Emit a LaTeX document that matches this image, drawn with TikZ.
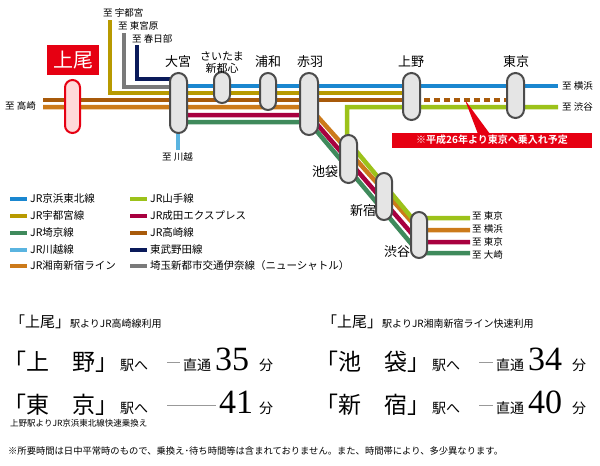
\documentclass[tikz,border=0pt]{standalone}
\usepackage{fontspec}
\setmainfont{Noto Sans CJK JP}
\newfontfamily\jpb{Noto Sans CJK JP Bold}
\newfontfamily\numf{Liberation Serif}
\definecolor{cBlue}{HTML}{1A87D0}
\definecolor{cYel}{HTML}{B89A00}
\definecolor{cBrown}{HTML}{A85A0A}
\definecolor{cOrange}{HTML}{CC7A1A}
\definecolor{cCrim}{HTML}{A8003F}
\definecolor{cGreen}{HTML}{3F8A5C}
\definecolor{cLBlue}{HTML}{5AB4E0}
\definecolor{cNavy}{HTML}{0A1A5A}
\definecolor{cGray}{HTML}{7A7A7A}
\definecolor{cLime}{HTML}{9CC21A}
\definecolor{cRed}{HTML}{E60012}
\begin{document}
\begin{tikzpicture}[x=1pt,y=-1pt,
  rail/.style={line width=4.5pt},
  pill/.style={draw=black!70,line width=2pt,fill=black!10},
  dest/.style={font=\fontsize{9.5}{9.5}\selectfont,inner sep=0pt},
  stn/.style={font=\fontsize{13}{14}\selectfont,inner sep=0pt,align=center},
  leg/.style={font=\fontsize{10.5}{10.5}\selectfont,anchor=west,inner sep=0pt},
  big/.style={font=\fontsize{23}{23}\selectfont,anchor=base west,inner sep=0pt},
  mid/.style={font=\fontsize{14}{14}\selectfont,anchor=base west,inner sep=0pt},
  num/.style={font=\numf\fontsize{34}{34}\selectfont,anchor=base west,inner sep=0pt},
  sm/.style={font=\fontsize{10}{10}\selectfont,anchor=base west,inner sep=0pt}]
\fill[white] (0,0) rectangle (600,466);
% branch lines
\draw[rail,cYel] (110,20) -- (110,93) -- (420,93);
\draw[rail,cGray] (124,33) -- (124,87) -- (180,87);
\draw[rail,cNavy] (137,45) -- (137,79) -- (180,79);
\draw[rail,cLBlue] (178,120) -- (178,150);
\draw[rail,cBlue] (180,86) -- (558,86);
\draw[rail,cBrown] (43,100) -- (420,100);
\draw[line width=3.5pt,cBrown,dash pattern=on 6pt off 4pt] (424,100) -- (507,100);
\draw[rail,cOrange] (43,107) -- (309,107) -- (419,230) -- (470,230);
\draw[rail,cCrim] (180,115) -- (309,115) -- (419,242) -- (470,242);
\draw[rail,cGreen] (180,122) -- (309,122) -- (419,253) -- (470,253);
\draw[rail,cLime] (558,107) -- (347,107) -- (347,140) -- (412,218) -- (470,218);
% pills
\draw[pill,draw=cRed,fill=red!15!white,rounded corners=7.5pt] (65,80) rectangle (80,133);
\draw[pill,rounded corners=8.5pt] (170,73) rectangle (187,133);
\draw[pill,rounded corners=8pt] (214,72) rectangle (230,103);
\draw[pill,rounded corners=8pt] (260,73) rectangle (276,110);
\draw[pill,rounded corners=9pt] (300,73) rectangle (318,135);
\draw[pill,rounded corners=8.5pt] (403,73) rectangle (420,120);
\draw[pill,rounded corners=8.5pt] (507,73) rectangle (524,118);
\draw[pill,rounded corners=8.5pt] (340,135) rectangle (357,183);
\draw[pill,rounded corners=8pt] (376,173) rectangle (392,220);
\draw[pill,rounded corners=8pt] (411,212) rectangle (427,258);
% ageo label
\node[fill=cRed,text=white,font=\fontsize{20}{20}\selectfont,minimum width=52pt,minimum height=30pt,inner sep=0pt] (ageo) at (73,60) {上尾};
% station labels
\node[stn] (omiya) at (178,62) {大宮};
\node[stn,font=\fontsize{11}{12}\selectfont] (shin) at (222,63) {さいたま\\新都心};
\node[stn] (urawa) at (268,62) {浦和};
\node[stn] (akab) at (310,62) {赤羽};
\node[stn] (ueno) at (411,62) {上野};
\node[stn] (tokyo) at (516,62) {東京};
\node[stn] (ikeb) at (325,172) {池袋};
\node[stn] (shinj) at (363,211) {新宿};
\node[stn] (shibu) at (397,252) {渋谷};
% destinations
\node[dest,anchor=west] (d1) at (103,13) {至 宇都宮};
\node[dest,anchor=west] (d2) at (118,26) {至 東宮原};
\node[dest,anchor=west] (d3) at (132,39) {至 春日部};
\node[dest,anchor=west] (d4) at (5,106) {至 高崎};
\node[dest,anchor=west] (d5) at (162,157) {至 川越};
\node[dest,anchor=west] (d6) at (562,86) {至 横浜};
\node[dest,anchor=west] (d7) at (562,107) {至 渋谷};
\node[dest,anchor=west] (d8) at (472,216) {至 東京};
\node[dest,anchor=west] (d9) at (472,229) {至 横浜};
\node[dest,anchor=west] (d10) at (472,242) {至 東京};
\node[dest,anchor=west] (d11) at (472,255) {至 大崎};
% callout
\fill[cRed] (465,100) -- (478,134) -- (490,134) -- cycle;
\node[fill=cRed,text=white,font=\jpb\fontsize{10}{10}\selectfont,minimum width=200pt,minimum height=15pt,inner sep=0pt] (note) at (492,140) {※平成26年より東京へ乗入れ予定};
% legend
\foreach \y/\c/\t [count=\i] in {199/cBlue/JR京浜東北線,216/cYel/JR宇都宮線,233/cGreen/JR埼京線,250/cLBlue/JR川越線,266/cOrange/JR湘南新宿ライン}{
  \draw[line width=4pt,color=\c] (10,\y) -- (27,\y);
  \node[leg] (la\i) at (30,\y) {\t};}
\foreach \y/\c/\t [count=\i] in {199/cLime/JR山手線,216/cCrim/JR成田エクスプレス,233/cBrown/JR高崎線,250/cNavy/東武野田線,266/cGray/埼玉新都市交通伊奈線（ニューシャトル）}{
  \draw[line width=4pt,color=\c] (130,\y) -- (147,\y);
  \node[leg] (lb\i) at (150,\y) {\t};}
% bottom left
\node[sm] (h1) at (10,327) {{\fontsize{15}{15}\selectfont「上尾」}駅よりJR高崎線利用};
\node[big] (u1) at (3,370) {「上　野」};
\node[mid] (u2) at (120,370) {駅へ};
\draw[black!40,line width=0.6pt] (167,362) -- (180,362);
\node[mid] (u3) at (183,370) {直通};
\node[num] (u4) at (215,370) {35};
\node[mid] (u5) at (259,370) {分};
\node[big] (t1) at (3,413) {「東　京」};
\node[mid] (t2) at (120,413) {駅へ};
\draw[black!40,line width=0.6pt] (167,405) -- (216,405);
\node[num] (t4) at (219,413) {41};
\node[mid] (t5) at (259,413) {分};
\node[sm,font=\fontsize{8.5}{9}\selectfont] (t6) at (10,426) {上野駅よりJR京浜東北線快速乗換え};
% bottom right
\node[sm] (h2) at (322,327) {{\fontsize{15}{15}\selectfont「上尾」}駅よりJR湘南新宿ライン快速利用};
\node[big] (i1) at (315,370) {「池　袋」};
\node[mid] (i2) at (432,370) {駅へ};
\draw[black!40,line width=0.6pt] (479,362) -- (493,362);
\node[mid] (i3) at (496,370) {直通};
\node[num] (i4) at (528,370) {34};
\node[mid] (i5) at (572,370) {分};
\node[big] (s1) at (315,413) {「新　宿」};
\node[mid] (s2) at (432,413) {駅へ};
\draw[black!40,line width=0.6pt] (479,405) -- (493,405);
\node[mid] (s3) at (496,413) {直通};
\node[num] (s4) at (528,413) {40};
\node[mid] (s5) at (572,413) {分};
\node[sm,font=\fontsize{9.3}{10}\selectfont] (foot) at (8,454) {※所要時間は日中平常時のもので、乗換え･待ち時間等は含まれておりません。また、時間帯により、多少異なります。};
\end{tikzpicture}
\end{document}
